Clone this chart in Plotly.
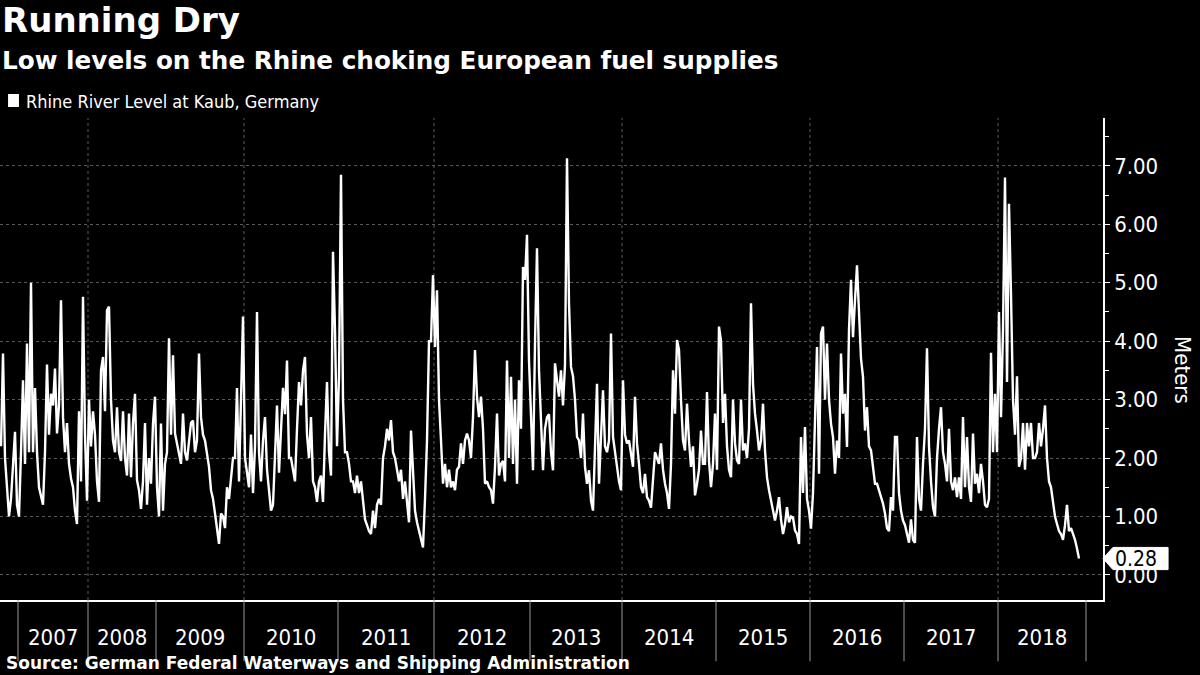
import plotly.graph_objects as go

# Rhine level at Kaub (metres) in equal steps along the x axis
level_2006 = [2.2, 3.79, 2.0, 1.5, 1.0, 1.3, 1.9, 2.45, 1.2]
level_2007 = [1.0, 2.1, 3.33, 1.9, 3.96, 2.1, 5.0, 2.1, 3.2, 2.1, 1.5, 1.35, 1.2, 2.1, 3.6,
              2.4, 3.1, 2.9, 3.53, 2.42, 2.9, 4.7, 2.7, 2.1, 2.6, 1.9, 1.65, 1.5, 1.1, 0.87,
              2.8, 1.6, 4.76, 2.4, 1.27]
level_2008 = [3.0, 2.2, 2.8, 2.4, 1.6, 1.25, 3.5, 3.73, 2.8, 4.53, 4.59, 3.0, 2.3, 2.1, 2.87,
              2.1, 1.95, 2.8, 2.0, 1.7, 2.76, 1.67, 2.6, 3.1, 1.62, 1.45, 1.13, 1.6, 2.6, 1.2,
              2.0, 1.56, 2.59, 3.05]
level_2009 = [1.5, 1.0, 2.59, 1.1, 1.9, 2.1, 4.05, 2.4, 3.76, 2.42, 2.25, 2.1, 1.9, 2.76, 2.1,
              1.96, 2.25, 2.6, 2.64, 2.1, 2.3, 3.79, 2.7, 2.4, 2.3, 2.1, 1.85, 1.45, 1.3, 1.05,
              0.8, 0.53, 1.05, 1.0, 0.8, 1.5, 1.3, 1.6, 2.0, 2.0, 3.2, 1.6, 3.1, 4.42]
level_2010 = [2.0, 1.7, 1.5, 2.4, 1.4, 2.2, 4.5, 2.1, 1.6, 2.3, 2.7, 1.8, 1.4, 1.1, 1.2,
              2.0, 2.9, 1.75, 2.6, 3.2, 2.75, 3.67, 2.0, 2.0, 1.8, 1.6, 2.5, 3.3, 2.9, 3.5,
              3.73, 2.4, 2.0, 2.7, 1.6, 1.5, 1.25, 1.6, 1.7, 1.25, 2.4, 3.3, 2.1, 1.7, 5.53,
              4.19, 2.2]
level_2011 = [3.4, 6.85, 3.0, 2.1, 2.1, 1.9, 1.6, 1.6, 1.4, 1.7, 1.4, 1.6, 1.2, 0.95, 0.85,
              0.75, 0.7, 1.1, 0.8, 1.2, 1.3, 1.2, 2.0, 2.2, 2.5, 2.3, 2.65, 2.1, 2.0, 1.8,
              1.6, 1.8, 1.3, 1.6, 1.2, 0.9, 2.47, 1.7, 1.1, 0.9, 0.75, 0.6, 0.47, 1.3, 2.3,
              4.0, 4.0, 5.13]
level_2012 = [3.9, 4.87, 3.0, 2.3, 1.56, 1.9, 1.5, 1.8, 1.5, 1.6, 1.45, 1.8, 1.85, 2.25, 1.9,
              2.3, 2.42, 2.3, 2.0, 2.7, 3.85, 3.05, 2.7, 3.05, 2.5, 1.56, 1.6, 1.5, 1.45, 1.22,
              1.85, 2.76, 1.7, 1.9, 1.95, 1.6, 3.67, 2.0, 3.39, 1.9, 3.0, 1.56, 3.33, 2.5, 5.27,
              5.05, 5.82, 3.67]
level_2013 = [2.8, 1.79, 3.96, 5.59, 3.5, 2.6, 1.79, 2.5, 2.7, 2.75, 2.1, 1.79, 3.62, 3.33, 3.05,
              3.5, 2.9, 3.6, 7.13, 4.65, 3.56, 3.4, 3.0, 2.36, 2.3, 2.0, 2.76, 1.85, 1.56, 1.79,
              1.27, 1.1, 2.1, 3.27, 1.56, 2.3, 3.16, 2.2, 2.1, 2.3, 4.13, 2.36, 2.1, 1.79, 1.6,
              1.45]
level_2014 = [3.33, 2.4, 2.25, 2.3, 2.07, 1.85, 3.05, 2.25, 1.9, 1.5, 1.4, 1.73, 1.33, 1.27, 1.15,
              1.6, 2.1, 2.0, 1.9, 2.25, 1.8, 1.56, 1.4, 1.13, 1.9, 3.5, 2.76, 4.02, 3.85, 3.0,
              2.3, 2.13, 2.93, 2.3, 1.85, 2.2, 1.36, 1.56, 1.8, 2.47, 1.9, 1.9, 3.13, 1.95, 1.5,
              1.9, 2.76]
level_2015 = [1.8, 4.25, 4.0, 2.6, 3.1, 2.2, 1.8, 1.67, 3.0, 2.25, 1.96, 1.9, 3.0, 2.13, 2.25,
              2.0, 2.5, 4.65, 3.27, 2.76, 2.47, 2.13, 2.3, 2.93, 2.13, 1.67, 1.45, 1.27, 1.1, 0.93,
              1.1, 1.33, 0.95, 0.7, 0.87, 1.16, 0.9, 1.0, 0.98, 0.76, 0.7, 0.53, 2.36, 1.4, 2.53,
              1.3, 1.1]
level_2016 = [0.79, 1.4, 2.82, 3.9, 1.73, 4.13, 4.25, 3.0, 3.96, 3.0, 2.59, 2.36, 1.73, 2.3, 2.0,
              3.79, 2.76, 3.1, 2.19, 4.19, 5.05, 4.07, 4.7, 5.3, 4.5, 3.7, 3.39, 2.47, 2.87, 2.2,
              2.13, 1.85, 1.56, 1.56, 1.45, 1.35, 1.22, 1.05, 0.8, 0.75, 1.33, 1.1, 2.36, 2.36, 1.4,
              1.1, 0.93]
level_2017 = [0.85, 0.7, 0.55, 0.95, 0.6, 0.55, 2.36, 1.3, 1.1, 1.9, 2.5, 3.88, 2.2, 1.6, 1.16,
              1.0, 2.0, 2.5, 2.87, 2.1, 1.9, 1.6, 2.5, 1.6, 1.45, 1.67, 1.33, 1.67, 1.3, 2.7,
              1.5, 2.36, 1.5, 1.25, 2.42, 1.56, 1.73, 1.4, 1.9, 1.6, 1.2, 1.16, 1.3, 3.8, 2.1,
              3.1, 2.1]
level_2018 = [4.5, 2.7, 4.2, 6.8, 3.3, 6.35, 4.8, 3.0, 2.4, 3.4, 1.85, 2.0, 2.6, 1.8, 2.6,
              2.2, 2.6, 2.0, 2.0, 2.1, 2.6, 2.2, 2.5, 2.9, 2.0, 1.6, 1.5, 1.2, 1.0, 0.87,
              0.75, 0.7, 0.6, 0.85, 1.2, 0.75, 0.8, 0.7, 0.6, 0.45, 0.28]

years = ["2006", "2007", "2008", "2009", "2010", "2011", "2012",
         "2013", "2014", "2015", "2016", "2017", "2018"]
by_year = [level_2006, level_2007, level_2008, level_2009, level_2010, level_2011, level_2012,
           level_2013, level_2014, level_2015, level_2016, level_2017, level_2018]

# x is the observation number, as on the original terminal chart
values = [v for chunk in by_year for v in chunk]
idx = list(range(len(values)))
starts = []
pos = 0
for chunk in by_year:
    starts.append(pos)
    pos += len(chunk)
end_sep = pos + 3 - 0.5  # axis closes a little after the last reading
seps = [s - 0.5 for s in starts[1:]] + [end_sep]  # year boundaries 2007..end

FONT = "DejaVu Sans Condensed"
BOLD_FONT = "DejaVu Sans"
WHITE = "#ffffff"
GRID = "#5a5a5a"

fig = go.Figure()
fig.add_trace(go.Scatter(
    x=idx, y=values, mode="lines",
    line=dict(color=WHITE, width=2.4),
    hoverinfo="skip", showlegend=False,
))

# year separators below the axis + dotted grid every other year
for i, s in enumerate(seps):
    fig.add_shape(type="line", xref="x", yref="paper", x0=s, x1=s, y0=0, y1=-0.127,
                  line=dict(color="#9a9a9a", width=1))
    if i % 2 == 1:
        fig.add_shape(type="line", xref="x", yref="paper", x0=s, x1=s, y0=0, y1=1,
                      line=dict(color=GRID, width=1, dash="dot"), layer="below")

# year labels centred between separators
for k in range(1, len(years)):
    left = seps[k - 1]
    right = seps[k]
    fig.add_annotation(x=(left + right) / 2, y=-0.077, xref="x", yref="paper",
                       text=years[k], showarrow=False, xanchor="center", yanchor="middle",
                       font=dict(family=FONT, size=22, color=WHITE))

# last value tag
last = values[-1]
fig.add_shape(type="path", xref="paper", yref="y", layer="above",
              path=f"M 1.0,{last} L 1.009,{last - 0.19} L 1.059,{last - 0.19} "
                   f"L 1.059,{last + 0.19} L 1.009,{last + 0.19} Z",
              fillcolor=WHITE, line=dict(color=WHITE, width=1))
fig.add_annotation(x=1.009, y=last, xref="paper", yref="y", text=f"{last:.2f}",
                   xanchor="left", yanchor="middle", showarrow=False,
                   font=dict(family=FONT, size=21, color="#000000"))

# titles, legend, source
fig.add_annotation(x=0, y=1.203, xref="paper", yref="paper", xanchor="left", yanchor="middle",
                   text="<b>Running Dry</b>", showarrow=False,
                   font=dict(family=BOLD_FONT, size=34, color=WHITE))
fig.add_annotation(x=0, y=1.120, xref="paper", yref="paper", xanchor="left", yanchor="middle",
                   text="<b>Low levels on the Rhine choking European fuel supplies</b>",
                   showarrow=False, font=dict(family=BOLD_FONT, size=24.7, color=WHITE))
fig.add_shape(type="rect", xref="paper", yref="paper", x0=0.0073, x1=0.0172,
              y0=1.0228, y1=1.0498, fillcolor=WHITE, line=dict(width=0))
fig.add_annotation(x=0.0215, y=1.035, xref="paper", yref="paper", xanchor="left",
                   yanchor="middle", text="Rhine River Level at Kaub, Germany",
                   showarrow=False, font=dict(family=FONT, size=18, color=WHITE))
fig.add_annotation(x=0.004, y=-0.131, xref="paper", yref="paper", xanchor="left",
                   yanchor="middle",
                   text="<b>Source: German Federal Waterways and Shipping Administration</b>",
                   showarrow=False, font=dict(family=BOLD_FONT, size=17, color=WHITE))
fig.add_annotation(x=1.0725, y=0.477, xref="paper", yref="paper", text="Meters",
                   textangle=90, showarrow=False, xanchor="center", yanchor="middle",
                   font=dict(family=FONT, size=22, color=WHITE))

fig.update_layout(
    width=1200, height=675,
    margin=dict(l=0, r=97, t=118, b=75),
    paper_bgcolor="#000000", plot_bgcolor="#000000",
    font=dict(family=FONT, color=WHITE),
    xaxis=dict(range=[-0.5, 551], showgrid=False, zeroline=False, showticklabels=False,
               showline=True, linecolor=WHITE, linewidth=1.5, ticks=""),
    yaxis=dict(side="right", range=[-0.43, 7.82], dtick=1, tick0=0, tickformat=".2f",
               showgrid=True, gridcolor=GRID, gridwidth=1, griddash="dot",
               zeroline=False, showline=True, linecolor=WHITE, linewidth=1.5,
               ticks="outside", ticklen=5, tickcolor=WHITE,
               tickfont=dict(family=FONT, size=22, color=WHITE),
               minor=dict(dtick=0.5, ticks="outside", ticklen=4, tickcolor=WHITE,
                          showgrid=False)),
)

# the page body keeps its default 8px margin otherwise
fig.write_html("out.html", config={"displayModeBar": False},
               post_script="document.body.style.margin = '0';")
